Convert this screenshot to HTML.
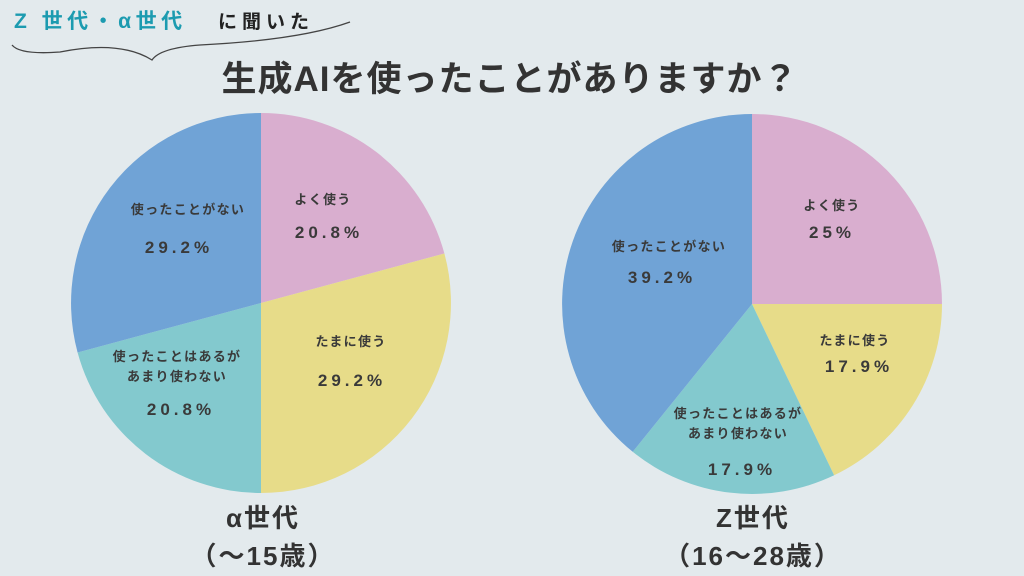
<!DOCTYPE html>
<html><head><meta charset="utf-8"><style>
html,body{margin:0;padding:0;width:1024px;height:576px;overflow:hidden;background:#e3eaed}
svg text{font-family:"Liberation Sans","Noto Sans CJK JP",sans-serif;fill:#3a3a3a;font-weight:bold}
</style></head><body>
<svg width="1024" height="576" viewBox="0 0 1024 576">
<text x="14" y="28" font-size="21" letter-spacing="4.5" style="fill:#1c9bb0">Z 世代・α世代</text>
<text x="218" y="28" font-size="19" letter-spacing="5" style="fill:#222">に聞いた</text>
<path d="M12 45 Q 20 55 60 52 Q 120 40 152 60 Q 160 48 200 45 Q 300 40 350 22" stroke="#444" stroke-width="1.3" fill="none"/>
<text x="510" y="91" font-size="35" letter-spacing="1" text-anchor="middle" style="fill:#333">生成AIを使ったことがありますか？</text>
<g stroke="none">
<path d="M261 303 L261 113 A190 190 0 0 1 444.4 253.5Z" fill="#d9aecf"/>
<path d="M261 303 L444.4 253.5 A190 190 0 0 1 261 493Z" fill="#e7dc89"/>
<path d="M261 303 L261 493 A190 190 0 0 1 77.6 352.5Z" fill="#83c9ce"/>
<path d="M261 303 L77.6 352.5 A190 190 0 0 1 261 113Z" fill="#70a3d6"/>
<path d="M752 304 L752 114 A190 190 0 0 1 942 304Z" fill="#d9aecf"/>
<path d="M752 304 L942 304 A190 190 0 0 1 834.1 475.3Z" fill="#e7dc89"/>
<path d="M752 304 L834.1 475.3 A190 190 0 0 1 632.7 451.8Z" fill="#83c9ce"/>
<path d="M752 304 L632.7 451.8 A190 190 0 0 1 752 114Z" fill="#70a3d6"/>
</g>
<g font-size="13" text-anchor="middle" letter-spacing="1.3">
<text x="323" y="204">よく使う</text>
<text x="188" y="214">使ったことがない</text>
<text x="351" y="346">たまに使う</text>
<text x="177" y="361">使ったことはあるが</text>
<text x="177" y="381">あまり使わない</text>
<text x="832" y="210">よく使う</text>
<text x="669" y="251">使ったことがない</text>
<text x="855" y="345">たまに使う</text>
<text x="738" y="418">使ったことはあるが</text>
<text x="738" y="438">あまり使わない</text>
</g>
<g font-size="17" text-anchor="middle" letter-spacing="4">
<text x="329" y="238">20.8%</text>
<text x="179" y="253">29.2%</text>
<text x="352" y="386">29.2%</text>
<text x="181" y="415">20.8%</text>
<text x="832" y="238">25%</text>
<text x="662" y="283">39.2%</text>
<text x="859" y="372">17.9%</text>
<text x="742" y="475">17.9%</text>
</g>
<g font-size="26" text-anchor="middle" letter-spacing="2" style="font-weight:normal">
<text x="263" y="527" style="fill:#333">α世代</text>
<text x="263" y="565" style="fill:#333">（〜15歳）</text>
<text x="753" y="527" style="fill:#333">Z世代</text>
<text x="753" y="565" style="fill:#333">（16〜28歳）</text>
</g>
</svg>
</body></html>
